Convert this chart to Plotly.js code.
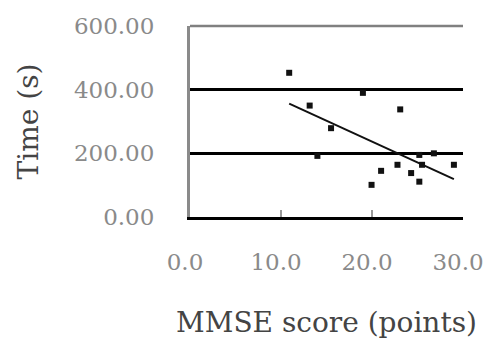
<!DOCTYPE html>
<html>
<head>
<meta charset="utf-8">
<script src="https://cdn.plot.ly/plotly-3.0.1.min.js"></script>
<style>html,body{margin:0;padding:0;background:#fff;}#chart{width:487px;height:344px;}</style>
</head>
<body>
<div id="chart"></div>
<script>
// MMSE score (points) vs Time (s)
const mmseScores = [10.9, 19.0, 13.15, 23.1, 15.5, 14.0, 26.8, 25.2, 22.8, 25.5, 24.3, 25.2, 29.0, 21.0, 19.95];
const timeSeconds = [453, 390, 350, 338, 279, 192, 200, 195, 164, 164, 138, 111, 164, 145, 101];
// Linear trendline end points
const trendX = [10.9, 29.0];
const trendY = [356, 119];
// Tick labels
const xTickVals = [0, 10, 20, 30];
const xTickText = ['0.0', '10.0', '20.0', '30.0'];
const yTickVals = [0, 200, 400, 600];
const yTickText = ['0.00', '200.00', '400.00', '600.00'];

const serif = 'DejaVu Serif, Liberation Serif, serif';

const traces = [
  {
    x: trendX, y: trendY, type: 'scatter', mode: 'lines',
    line: {color: '#111', width: 2}, hoverinfo: 'skip', showlegend: false
  },
  {
    x: mmseScores, y: timeSeconds, type: 'scatter', mode: 'markers',
    marker: {symbol: 'square', size: 6, color: '#111'}, showlegend: false
  }
];

const layout = {
  width: 487, height: 344,
  margin: {l: 190, r: 24, t: 26, b: 127},
  paper_bgcolor: '#fff', plot_bgcolor: '#fff',
  showlegend: false,
  xaxis: {
    range: [0, 30], tickvals: xTickVals, ticktext: xTickText,
    showgrid: false, zeroline: false,
    showline: true, linecolor: '#000', linewidth: 2.5,
    ticks: 'inside', ticklen: 7, tickwidth: 2, tickcolor: '#999',
    ticklabelstandoff: 23, ticklabelshift: -5, ticklabeloverflow: 'allow',
    tickfont: {family: serif, size: 23, color: '#8a8a8a'},
    title: {text: 'MMSE score (points)', standoff: 39, font: {family: serif, size: 28, color: '#444'}},
    automargin: false, fixedrange: true
  },
  yaxis: {
    range: [0, 600], tickvals: yTickVals, ticktext: yTickText,
    showgrid: true, gridcolor: '#000', gridwidth: 2.5,
    zeroline: true, zerolinecolor: '#000', zerolinewidth: 2.5,
    showline: true, linecolor: '#8a8a8a', linewidth: 3,
    ticks: '', ticklabelstandoff: 28,
    tickfont: {family: serif, size: 23, color: '#8a8a8a'},
    title: {text: 'Time (s)', standoff: 28, font: {family: serif, size: 28, color: '#444'}},
    automargin: false, fixedrange: true
  },
  shapes: [
    {type: 'line', xref: 'paper', yref: 'paper', x0: 0, x1: 1, y0: 1, y1: 1,
     line: {color: '#808080', width: 2.5}, layer: 'above'}
  ]
};

Plotly.newPlot('chart', traces, layout, {staticPlot: true, displayModeBar: false});
</script>
</body>
</html>
